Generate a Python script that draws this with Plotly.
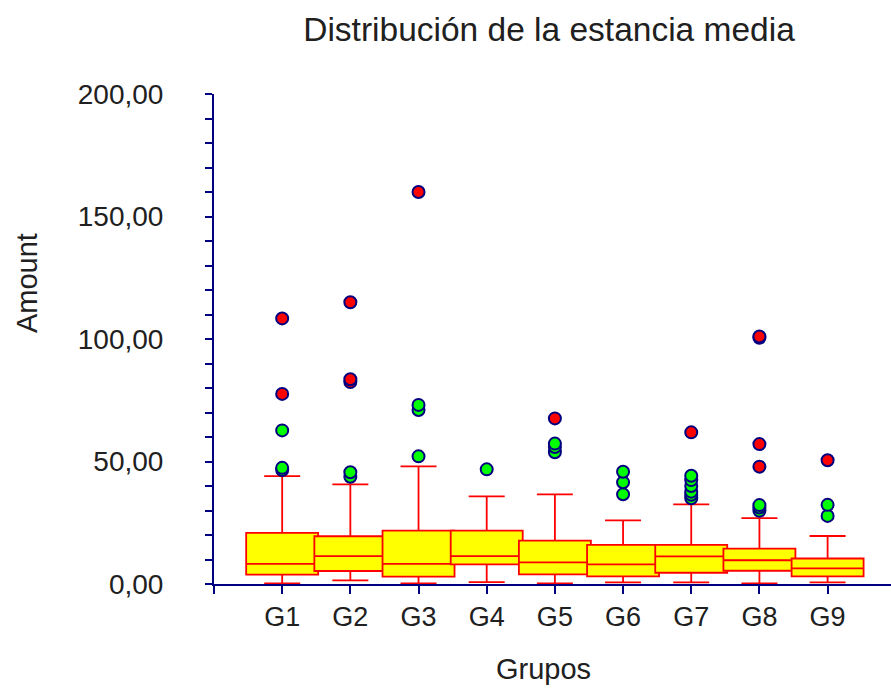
import plotly.graph_objects as go

# Box statistics per group (length of stay)
groups = ["G1", "G2", "G3", "G4", "G5", "G6", "G7", "G8", "G9"]
q1 = [3.8, 5.3, 3.0, 8.0, 3.9, 3.1, 4.6, 5.4, 3.1]
median = [8.2, 11.4, 8.2, 11.4, 8.8, 8.0, 11.3, 9.7, 6.4]
q3 = [20.9, 19.5, 21.8, 21.8, 17.7, 16.0, 16.0, 14.4, 10.4]
lower_fence = [0.2, 1.5, 0.2, 0.8, 0.2, 0.7, 0.7, 0.2, 0.7]
upper_fence = [44.0, 40.7, 48.0, 35.8, 36.6, 26.0, 32.5, 26.9, 19.6]

# Suspected outliers (green) and extreme outliers (red) per group
suspected = [
    [46.5, 47.4, 62.7],
    [43.8, 45.6],
    [52.1, 71.0, 73.1],
    [46.8],
    [53.8, 55.9, 57.3],
    [36.6, 41.5, 45.8],
    [35.0, 36.4, 37.7, 40.0, 42.4, 44.2],
    [29.9, 31.2, 32.2],
    [27.8, 32.3],
]
extreme = [
    [77.6, 108.4],
    [82.4, 83.6, 115.0],
    [160.0],
    [],
    [67.6],
    [],
    [61.9],
    [47.9, 57.1, 100.5, 101.0],
    [50.5],
]

y_ticks = [0, 50, 100, 150, 200]

NAVY = "#000080"
TEXT = "#202020"
FONT = "Arial, Liberation Sans, sans-serif"
positions = list(range(1, len(groups) + 1))

fig = go.Figure()

for i, pos in enumerate(positions):
    fig.add_trace(go.Box(
        x=[pos], q1=[q1[i]], median=[median[i]], q3=[q3[i]],
        lowerfence=[lower_fence[i]], upperfence=[upper_fence[i]],
        width=1.056, whiskerwidth=0.5,
        fillcolor="#FFFF00", line=dict(color="#FF0000", width=1.8),
        boxpoints=False, showlegend=False, hoverinfo="y",
    ))

for i, pos in enumerate(positions):
    if suspected[i]:
        fig.add_trace(go.Scatter(
            x=[pos] * len(suspected[i]), y=suspected[i], mode="markers",
            marker=dict(size=12, color="#00FF00", line=dict(color=NAVY, width=2)),
            showlegend=False, cliponaxis=False,
        ))
    if extreme[i]:
        fig.add_trace(go.Scatter(
            x=[pos] * len(extreme[i]), y=extreme[i], mode="markers",
            marker=dict(size=12, color="#FF0000", line=dict(color=NAVY, width=2)),
            showlegend=False, cliponaxis=False,
        ))

# Axis titles placed as annotations (paper coordinates relative to the plot area)
fig.add_annotation(
    text="Amount", textangle=-90, showarrow=False,
    xref="paper", yref="paper", x=-0.277, y=0.615,
    xanchor="center", yanchor="middle",
    font=dict(size=29, family=FONT, color=TEXT),
)
fig.add_annotation(
    text="Grupos", showarrow=False,
    xref="paper", yref="paper", x=0.486, y=-0.173,
    xanchor="center", yanchor="middle",
    font=dict(size=29, family=FONT, color=TEXT),
)

fig.update_layout(
    width=891, height=691,
    margin=dict(l=214, r=0, t=94, b=107),
    paper_bgcolor="white", plot_bgcolor="white",
    boxmode="overlay",
    separators=",.",
    font=dict(family=FONT, color=TEXT),
    title=dict(
        text="Distribución de la estancia media",
        font=dict(size=33.5, family=FONT, color=TEXT),
        x=549 / 891, xref="container", xanchor="center",
        y=1 - 29 / 691, yref="container", yanchor="middle",
    ),
    xaxis=dict(
        range=[0, 9.93],
        tickvals=[0] + positions, ticktext=[""] + groups,
        showgrid=False, zeroline=False,
        showline=True, linecolor=NAVY, linewidth=2,
        ticks="outside", ticklen=8, tickwidth=2, tickcolor=NAVY,
        tickfont=dict(size=27, family=FONT, color=TEXT),
    ),
    yaxis=dict(
        range=[0, 200],
        tickvals=y_ticks, tickformat=".2f",
        showgrid=False, zeroline=False,
        showline=True, linecolor=NAVY, linewidth=2,
        ticks="outside", ticklen=7, tickwidth=2, tickcolor=NAVY,
        minor=dict(dtick=10, ticks="outside", ticklen=7, tickwidth=2, tickcolor=NAVY),
        ticklabelstandoff=36,
        tickfont=dict(size=28, family=FONT, color=TEXT),
    ),
)

fig.write_html("out.html")
